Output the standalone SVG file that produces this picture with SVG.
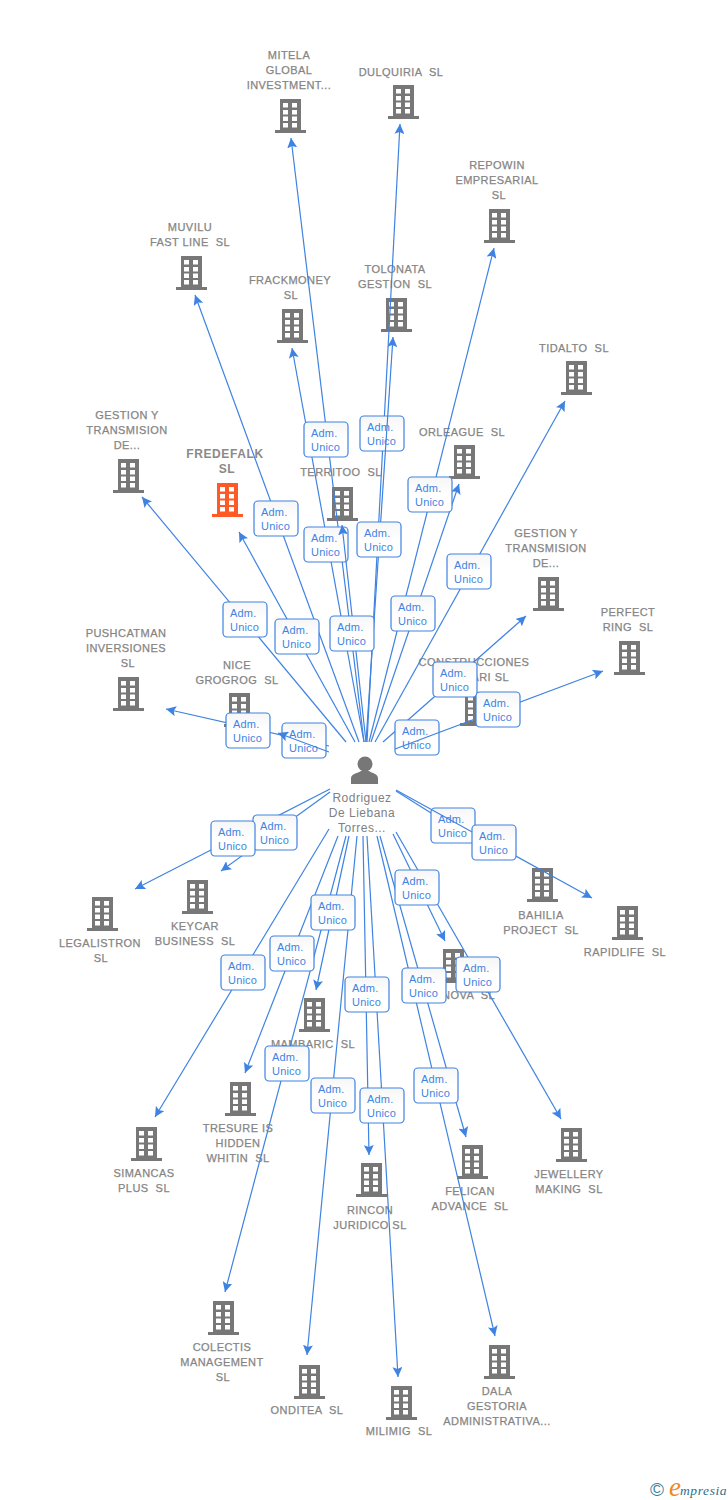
<svg xmlns="http://www.w3.org/2000/svg" width="728" height="1500" viewBox="0 0 728 1500">
<style>
text{font-family:"Liberation Sans",Arial,sans-serif}
.l{font-size:11px;fill:#858585;stroke:#858585;stroke-width:.25px;letter-spacing:.45px;text-anchor:middle;white-space:pre}
.f{font-size:12px;font-weight:bold;letter-spacing:.6px;stroke:none;fill:#8a8a8a}
.p{font-size:12px;fill:#808080;text-anchor:middle;letter-spacing:.5px}
.i{fill:#777}.o{fill:#ff5a26}
.c line{stroke:#3f83e2;stroke-width:1.2;marker-end:url(#a)}
.c rect{fill:url(#g);stroke:#3f83e2;stroke-width:1.2}
.c text{font-size:11px;fill:#3f83e2;letter-spacing:.2px}
</style>
<defs>
<linearGradient id="g" x1="0" y1="0" x2="0" y2="1"><stop offset="0" stop-color="#f6f6f6"/><stop offset=".5" stop-color="#fff"/></linearGradient>
<marker id="a" markerUnits="userSpaceOnUse" markerWidth="12" markerHeight="10" refX="10" refY="5" orient="auto"><path d="M0 0L10 5L0 10L2 5Z" fill="#3f83e2"/></marker>
<g id="t"><path d="M5 0H26V31H31V34H0V31H5Z"/><path fill="#fff" d="M8 4h5v4.500h-5zM17 4h5v4.500h-5zM8 11h5v4.500h-5zM17 11h5v4.500h-5zM8 17.500h5v4.500h-5zM17 17.500h5v4.500h-5zM8 24h5v4.500h-5zM17 24h5v4.500h-5z"/></g>
</defs>
<g id="n1"><text class="l" x="289" y="59">MITELA</text><text class="l" x="289" y="74">GLOBAL</text><text class="l" x="289" y="89">INVESTMENT...</text><use href="#t" class="i" x="275" y="99"/></g>
<g id="n2"><text class="l" x="401" y="76">DULQUIRIA  SL</text><use href="#t" class="i" x="388" y="85"/></g>
<g id="n3"><text class="l" x="497" y="169">REPOWIN</text><text class="l" x="497" y="184">EMPRESARIAL</text><text class="l" x="499" y="199">SL</text><use href="#t" class="i" x="484" y="209"/></g>
<g id="n4"><text class="l" x="190" y="231">MUVILU</text><text class="l" x="190" y="246">FAST LINE  SL</text><use href="#t" class="i" x="176" y="256"/></g>
<g id="n5"><text class="l" x="290" y="284">FRACKMONEY</text><text class="l" x="291" y="299">SL</text><use href="#t" class="i" x="277" y="309"/></g>
<g id="n6"><text class="l" x="395" y="273">TOLONATA</text><text class="l" x="395" y="288">GESTION  SL</text><use href="#t" class="i" x="381" y="298"/></g>
<g id="n7"><text class="l" x="574" y="352">TIDALTO  SL</text><use href="#t" class="i" x="561" y="361"/></g>
<g id="n8"><text class="l" x="462" y="436">ORLEAGUE  SL</text><use href="#t" class="i" x="449" y="445"/></g>
<g id="n9"><text class="l" x="127" y="419">GESTION Y</text><text class="l" x="127" y="434">TRANSMISION</text><text class="l" x="127" y="449">DE...</text><use href="#t" class="i" x="113" y="459"/></g>
<g id="n10"><text class="l f" x="225" y="458">FREDEFALK</text><text class="l f" x="227" y="473">SL</text><use href="#t" class="o" x="212" y="483"/></g>
<g id="n11"><text class="l" x="341" y="476">TERRITOO  SL</text><use href="#t" class="i" x="327" y="487"/></g>
<g id="n12"><text class="l" x="546" y="537">GESTION Y</text><text class="l" x="546" y="552">TRANSMISION</text><text class="l" x="546" y="567">DE...</text><use href="#t" class="i" x="533" y="577"/></g>
<g id="n13"><text class="l" x="628" y="616">PERFECT</text><text class="l" x="628" y="631">RING  SL</text><use href="#t" class="i" x="614" y="641"/></g>
<g id="n14"><text class="l" x="126" y="637">PUSHCATMAN</text><text class="l" x="126" y="652">INVERSIONES</text><text class="l" x="128" y="667">SL</text><use href="#t" class="i" x="113" y="677"/></g>
<g id="n15"><text class="l" x="237" y="669">NICE</text><text class="l" x="237" y="684">GROGROG  SL</text><use href="#t" class="i" x="224" y="693"/></g>
<g id="n16"><text class="l" x="474" y="666">CONSTRUCCIONES</text><text class="l" x="509" y="681" style="text-anchor:end">ARI SL</text><use href="#t" class="i" x="460" y="692"/></g>
<g id="n17"><text class="l" x="100" y="947">LEGALISTRON</text><text class="l" x="101" y="962">SL</text><use href="#t" class="i" x="87" y="897"/></g>
<g id="n18"><text class="l" x="195" y="930">KEYCAR</text><text class="l" x="195" y="945">BUSINESS  SL</text><use href="#t" class="i" x="182" y="880"/></g>
<g id="n19"><text class="l" x="541" y="919">BAHILIA</text><text class="l" x="541" y="934">PROJECT  SL</text><use href="#t" class="i" x="527" y="868"/></g>
<g id="n20"><text class="l" x="625" y="956">RAPIDLIFE  SL</text><use href="#t" class="i" x="612" y="906"/></g>
<g id="n21"><text class="l" x="495" y="999" style="text-anchor:end">NOVA  SL</text><use href="#t" class="i" x="438" y="949"/></g>
<g id="n22"><text class="l" x="313" y="1048">MAMBARIC  SL</text><use href="#t" class="i" x="299" y="998"/></g>
<g id="n23"><text class="l" x="238" y="1132">TRESURE IS</text><text class="l" x="238" y="1147">HIDDEN</text><text class="l" x="238" y="1162">WHITIN  SL</text><use href="#t" class="i" x="225" y="1082"/></g>
<g id="n24"><text class="l" x="144" y="1177">SIMANCAS</text><text class="l" x="144" y="1192">PLUS  SL</text><use href="#t" class="i" x="131" y="1127"/></g>
<g id="n25"><text class="l" x="569" y="1178">JEWELLERY</text><text class="l" x="569" y="1193">MAKING  SL</text><use href="#t" class="i" x="556" y="1128"/></g>
<g id="n26"><text class="l" x="470" y="1195">FELICAN</text><text class="l" x="470" y="1210">ADVANCE  SL</text><use href="#t" class="i" x="457" y="1145"/></g>
<g id="n27"><text class="l" x="370" y="1214">RINCON</text><text class="l" x="370" y="1229">JURIDICO SL</text><use href="#t" class="i" x="356" y="1163"/></g>
<g id="n28"><text class="l" x="222" y="1351">COLECTIS</text><text class="l" x="222" y="1366">MANAGEMENT</text><text class="l" x="223" y="1381">SL</text><use href="#t" class="i" x="208" y="1301"/></g>
<g id="n29"><text class="l" x="307" y="1414">ONDITEA  SL</text><use href="#t" class="i" x="294" y="1365"/></g>
<g id="n30"><text class="l" x="399" y="1435">MILIMIG  SL</text><use href="#t" class="i" x="386" y="1386"/></g>
<g id="n31"><text class="l" x="497" y="1395">DALA</text><text class="l" x="497" y="1410">GESTORIA</text><text class="l" x="497" y="1425">ADMINISTRATIVA...</text><use href="#t" class="i" x="484" y="1345"/></g>
<g id="person"><circle class="i" cx="365" cy="764" r="7.500"/><path class="i" d="M351 784V778C351 774 358 773 361 771H369C372 773 378 774 378 778V784Z"/><text class="p" x="362" y="802">Rodriguez</text><text class="p" x="362" y="817">De Liebana</text><text class="p" x="362" y="832">Torres...</text></g>
<g id="connectors" class="c">
<line x1="364" y1="742" x2="291" y2="138"/>
<line x1="367" y1="742" x2="400" y2="124"/>
<line x1="369" y1="742" x2="494" y2="248"/>
<line x1="359" y1="742" x2="195" y2="295"/>
<line x1="364" y1="742" x2="292" y2="348"/>
<line x1="375" y1="742" x2="565" y2="401"/>
<line x1="371" y1="742" x2="459" y2="484"/>
<line x1="346" y1="742" x2="142" y2="497"/>
<line x1="355" y1="742" x2="239" y2="532"/>
<line x1="383" y1="742" x2="526" y2="616"/>
<line x1="329" y1="746" x2="166" y2="709"/>
<line x1="330" y1="789" x2="135" y2="889"/>
<line x1="330" y1="792" x2="221" y2="871"/>
<line x1="396" y1="791" x2="506" y2="860"/>
<line x1="393" y1="834" x2="445" y2="941"/>
<line x1="396" y1="832" x2="561" y2="1119"/>
<line x1="349" y1="836" x2="316" y2="990"/>
<line x1="338" y1="836" x2="245" y2="1073"/>
<line x1="329" y1="829" x2="155" y2="1117"/>
<line x1="346" y1="836" x2="225" y2="1292"/>
<line x1="357" y1="836" x2="307" y2="1355"/>
<line x1="367" y1="836" x2="398" y2="1377"/>
<line x1="363" y1="836" x2="369" y2="1155"/>
<line x1="380" y1="836" x2="466" y2="1137"/>
<line x1="377" y1="836" x2="495" y2="1336"/>
<g transform="translate(382 433)"><rect x="-22" y="-17" width="44" height="35" rx="4"/><text x="-15" y="-2">Adm.</text><text x="-15" y="12">Unico</text></g>
<g transform="translate(326 544)"><rect x="-22" y="-17" width="44" height="35" rx="4"/><text x="-15" y="-2">Adm.</text><text x="-15" y="12">Unico</text></g>
<g transform="translate(304 740)"><rect x="-22" y="-17" width="44" height="35" rx="4"/><text x="-15" y="-2">Adm.</text><text x="-15" y="12">Unico</text></g>
<g transform="translate(417 737)"><rect x="-22" y="-17" width="44" height="35" rx="4"/><text x="-15" y="-2">Adm.</text><text x="-15" y="12">Unico</text></g>
<g transform="translate(453 825)"><rect x="-22" y="-17" width="44" height="35" rx="4"/><text x="-15" y="-2">Adm.</text><text x="-15" y="12">Unico</text></g>
<line x1="366" y1="742" x2="393" y2="337"/>
<line x1="366" y1="742" x2="342" y2="525"/>
<line x1="329" y1="752" x2="278" y2="733"/>
<line x1="395" y1="749" x2="603" y2="671"/>
<line x1="396" y1="790" x2="592" y2="898"/>
<g transform="translate(326 439)"><rect x="-22" y="-17" width="44" height="35" rx="4"/><text x="-15" y="-2">Adm.</text><text x="-15" y="12">Unico</text></g>
<g transform="translate(276 518)"><rect x="-22" y="-17" width="44" height="35" rx="4"/><text x="-15" y="-2">Adm.</text><text x="-15" y="12">Unico</text></g>
<g transform="translate(379 539)"><rect x="-22" y="-17" width="44" height="35" rx="4"/><text x="-15" y="-2">Adm.</text><text x="-15" y="12">Unico</text></g>
<g transform="translate(430 494)"><rect x="-22" y="-17" width="44" height="35" rx="4"/><text x="-15" y="-2">Adm.</text><text x="-15" y="12">Unico</text></g>
<g transform="translate(469 571)"><rect x="-22" y="-17" width="44" height="35" rx="4"/><text x="-15" y="-2">Adm.</text><text x="-15" y="12">Unico</text></g>
<g transform="translate(413 613)"><rect x="-22" y="-17" width="44" height="35" rx="4"/><text x="-15" y="-2">Adm.</text><text x="-15" y="12">Unico</text></g>
<g transform="translate(352 633)"><rect x="-22" y="-17" width="44" height="35" rx="4"/><text x="-15" y="-2">Adm.</text><text x="-15" y="12">Unico</text></g>
<g transform="translate(297 636)"><rect x="-22" y="-17" width="44" height="35" rx="4"/><text x="-15" y="-2">Adm.</text><text x="-15" y="12">Unico</text></g>
<g transform="translate(245 619)"><rect x="-22" y="-17" width="44" height="35" rx="4"/><text x="-15" y="-2">Adm.</text><text x="-15" y="12">Unico</text></g>
<g transform="translate(248 730)"><rect x="-22" y="-17" width="44" height="35" rx="4"/><text x="-15" y="-2">Adm.</text><text x="-15" y="12">Unico</text></g>
<g transform="translate(455 679)"><rect x="-22" y="-17" width="44" height="35" rx="4"/><text x="-15" y="-2">Adm.</text><text x="-15" y="12">Unico</text></g>
<g transform="translate(498 709)"><rect x="-22" y="-17" width="44" height="35" rx="4"/><text x="-15" y="-2">Adm.</text><text x="-15" y="12">Unico</text></g>
<g transform="translate(275 832)"><rect x="-22" y="-17" width="44" height="35" rx="4"/><text x="-15" y="-2">Adm.</text><text x="-15" y="12">Unico</text></g>
<g transform="translate(233 838)"><rect x="-22" y="-17" width="44" height="35" rx="4"/><text x="-15" y="-2">Adm.</text><text x="-15" y="12">Unico</text></g>
<g transform="translate(494 842)"><rect x="-22" y="-17" width="44" height="35" rx="4"/><text x="-15" y="-2">Adm.</text><text x="-15" y="12">Unico</text></g>
<g transform="translate(417 887)"><rect x="-22" y="-17" width="44" height="35" rx="4"/><text x="-15" y="-2">Adm.</text><text x="-15" y="12">Unico</text></g>
<g transform="translate(478 974)"><rect x="-22" y="-17" width="44" height="35" rx="4"/><text x="-15" y="-2">Adm.</text><text x="-15" y="12">Unico</text></g>
<g transform="translate(424 985)"><rect x="-22" y="-17" width="44" height="35" rx="4"/><text x="-15" y="-2">Adm.</text><text x="-15" y="12">Unico</text></g>
<g transform="translate(333 912)"><rect x="-22" y="-17" width="44" height="35" rx="4"/><text x="-15" y="-2">Adm.</text><text x="-15" y="12">Unico</text></g>
<g transform="translate(292 953)"><rect x="-22" y="-17" width="44" height="35" rx="4"/><text x="-15" y="-2">Adm.</text><text x="-15" y="12">Unico</text></g>
<g transform="translate(243 972)"><rect x="-22" y="-17" width="44" height="35" rx="4"/><text x="-15" y="-2">Adm.</text><text x="-15" y="12">Unico</text></g>
<g transform="translate(367 994)"><rect x="-22" y="-17" width="44" height="35" rx="4"/><text x="-15" y="-2">Adm.</text><text x="-15" y="12">Unico</text></g>
<g transform="translate(287 1063)"><rect x="-22" y="-17" width="44" height="35" rx="4"/><text x="-15" y="-2">Adm.</text><text x="-15" y="12">Unico</text></g>
<g transform="translate(333 1095)"><rect x="-22" y="-17" width="44" height="35" rx="4"/><text x="-15" y="-2">Adm.</text><text x="-15" y="12">Unico</text></g>
<g transform="translate(382 1105)"><rect x="-22" y="-17" width="44" height="35" rx="4"/><text x="-15" y="-2">Adm.</text><text x="-15" y="12">Unico</text></g>
<g transform="translate(436 1085)"><rect x="-22" y="-17" width="44" height="35" rx="4"/><text x="-15" y="-2">Adm.</text><text x="-15" y="12">Unico</text></g>
</g>
<g id="logo"><text x="650" y="1496" style="font-size:19px;fill:#3d7f9c">©</text><text x="669" y="1496" style="font-size:27px;font-style:italic;fill:#f08a1d;font-family:'Liberation Serif',serif">e</text><text x="680" y="1495" style="font-size:13.500px;font-style:italic;fill:#2c6f8c;font-family:'Liberation Serif',serif;letter-spacing:.6px">mpresia</text></g>
</svg>
